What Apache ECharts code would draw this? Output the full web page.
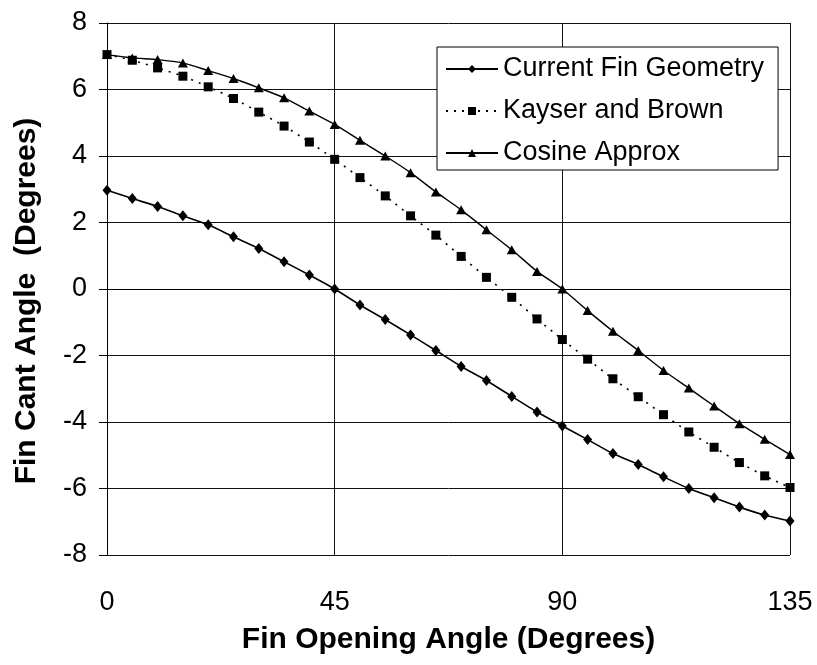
<!DOCTYPE html>
<html>
<head>
<meta charset="utf-8">
<script src="https://cdn.jsdelivr.net/npm/echarts@6/dist/echarts.min.js"></script>
<style>
html,body{margin:0;padding:0;background:#fff;}
#chart{width:817px;height:665px;}
</style>
</head>
<body>
<div id="chart"></div>
<script>
const angles = [0,5,10,15,20,25,30,35,40,45,50,55,60,65,70,75,80,85,90,95,100,105,110,115,120,125,130,135];
const currentFin = [2.97,2.72,2.48,2.2,1.93,1.57,1.22,0.82,0.42,0.0,-0.48,-0.92,-1.38,-1.85,-2.33,-2.75,-3.23,-3.7,-4.12,-4.53,-4.95,-5.28,-5.65,-6.0,-6.28,-6.56,-6.8,-6.98];
const kayserBrown = [7.05,6.88,6.65,6.4,6.08,5.73,5.32,4.9,4.42,3.9,3.35,2.8,2.2,1.62,0.98,0.35,-0.25,-0.9,-1.52,-2.11,-2.7,-3.24,-3.78,-4.3,-4.76,-5.22,-5.62,-5.97];
const cosineApprox = [7.05,6.95,6.9,6.8,6.57,6.33,6.05,5.75,5.35,4.95,4.47,4.0,3.5,2.92,2.38,1.78,1.18,0.53,0.0,-0.65,-1.27,-1.85,-2.45,-2.98,-3.52,-4.05,-4.52,-4.98];
const seriesNames = ['Current Fin Geometry','Kayser and Brown','Cosine Approx'];
const xTitle = 'Fin Opening Angle (Degrees)';
const yTitle = 'Fin Cant Angle  (Degrees)';

const pair = arr => angles.map((a, i) => [a, arr[i]]);
const FONT = '"Liberation Sans", Arial, sans-serif';

const chart = echarts.init(document.getElementById('chart'), null, {renderer: 'canvas'});
chart.setOption({
  backgroundColor: '#ffffff',
  animation: false,
  textStyle: {fontFamily: FONT, color: '#000'},
  grid: {left: 107, right: 27, top: 23, bottom: 110, containLabel: false},
  legend: {
    left: 437, top: 47, orient: 'vertical',
    backgroundColor: '#fff', borderColor: '#000', borderWidth: 1,
    padding: [7, 14, 2, 8],
    itemWidth: 52, itemHeight: 10, itemGap: 12, itemTextGap: 10,
    textStyle: {fontFamily: FONT, fontSize: 27, color: '#000', lineHeight: 30},
    data: seriesNames
  },
  xAxis: {
    type: 'value', min: 0, max: 135, interval: 45,
    name: xTitle, nameLocation: 'middle', nameGap: 70,
    nameTextStyle: {fontFamily: FONT, fontSize: 30, fontWeight: 'bold', color: '#000'},
    axisLine: {show: true, lineStyle: {color: '#000', width: 1}},
    axisTick: {show: true, inside: false, length: 8, lineStyle: {color: '#000'}},
    axisLabel: {fontFamily: FONT, fontSize: 27, color: '#000', margin: 34},
    splitLine: {show: true, lineStyle: {color: '#111', width: 1}}
  },
  yAxis: {
    type: 'value', min: -8, max: 8, interval: 2,
    name: yTitle, nameLocation: 'middle', nameGap: 65, nameRotate: 90,
    nameTextStyle: {fontFamily: FONT, fontSize: 30, fontWeight: 'bold', color: '#000', padding: [0, 24, 0, 0]},
    axisLine: {show: true, lineStyle: {color: '#000', width: 1}},
    axisTick: {show: true, inside: false, length: 8, lineStyle: {color: '#000'}},
    axisLabel: {fontFamily: FONT, fontSize: 27, color: '#000', margin: 20},
    splitLine: {show: true, lineStyle: {color: '#111', width: 1}}
  },
  series: [
    {
      name: seriesNames[0], type: 'line', data: pair(currentFin), smooth: 0.2,
      symbol: 'diamond', symbolSize: [9, 11],
      lineStyle: {color: '#000', width: 1.6, type: 'solid'},
      itemStyle: {color: '#000'}
    },
    {
      name: seriesNames[1], type: 'line', data: pair(kayserBrown), smooth: 0.2,
      symbol: 'rect', symbolSize: 9,
      lineStyle: {color: '#000', width: 1.6, type: [2, 6]},
      itemStyle: {color: '#000'}
    },
    {
      name: seriesNames[2], type: 'line', data: pair(cosineApprox), smooth: 0.2,
      symbol: 'triangle', symbolSize: [10, 9],
      lineStyle: {color: '#000', width: 1.4, type: 'solid'},
      itemStyle: {color: '#000'}
    }
  ]
});
</script>
</body>
</html>
